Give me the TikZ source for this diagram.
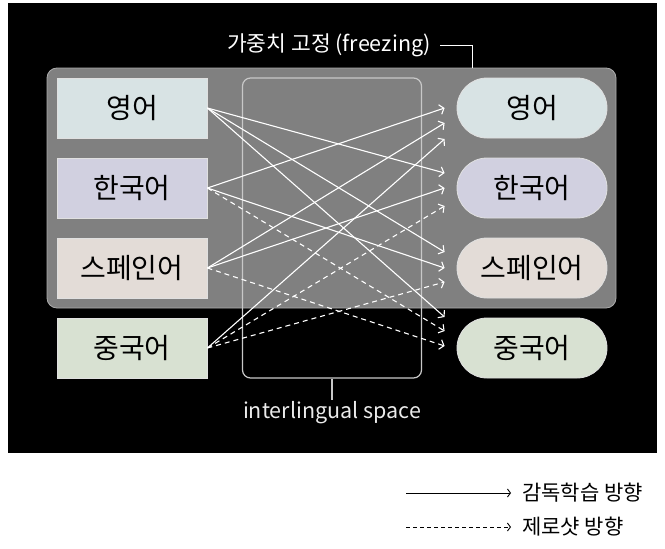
\documentclass[tikz,border=0pt]{standalone}
\usepackage{fontspec}
\setmainfont{Noto Sans CJK KR}
\usetikzlibrary{arrows.meta}

\definecolor{frozengray}{HTML}{808080}
\definecolor{frozenedge}{HTML}{ABABAB}
\definecolor{spaceedge}{HTML}{C8C8C8}
\definecolor{enfill}{HTML}{D8E3E4}
\definecolor{kofill}{HTML}{D1D0E0}
\definecolor{esfill}{HTML}{E3DCD7}
\definecolor{zhfill}{HTML}{D8E1D2}

\tikzset{
  langbox/.style={draw=white!88!black, line width=0.8pt, minimum width=150pt,
    minimum height=60pt, inner sep=0pt, text=black, font=\fontsize{28}{32}\selectfont},
  tgtbox/.style={langbox, rounded corners=30pt},
  sup/.style={draw=white, line width=1.1pt, -{Straight Barb[length=4pt,width=10pt,line width=1.1pt]}},
  zero/.style={sup, dash pattern=on 5pt off 4pt},
  legsup/.style={draw=black, line width=0.9pt, -{Straight Barb[length=3pt,width=8pt,line width=0.9pt]}},
  legzero/.style={legsup, dash pattern=on 4pt off 3pt},
  legtext/.style={anchor=west, inner sep=3pt, font=\fontsize{21}{25}\selectfont}
}

\begin{document}
\begin{tikzpicture}[x=1pt, y=-1pt]
\useasboundingbox (0,0) rectangle (665,549);
\fill[white] (0,0) rectangle (665,549);
% dark panel
\fill[black] (8,3) rectangle (657,453);

% frozen weights and the shared space
\node[draw=frozenedge, fill=frozengray, line width=0.8pt, rounded corners=10pt,
  minimum width=569pt, minimum height=240pt] (frozen) at (331.5,188) {};
\node[draw=spaceedge, line width=1.2pt, rounded corners=8pt,
  minimum width=179pt, minimum height=300pt] (space) at (332,228) {};
\node[text=white, font=\fontsize{21.5}{25}\selectfont] (title) at (329,45) {가중치 고정 (freezing)};
\coordinate (frozenTop) at (472,68);
\draw[white, line width=1pt] ([xshift=6pt]title.east) -| (frozenTop);
\node[anchor=north, inner sep=1pt, text=white!92!black, font=\fontsize{21.5}{25}\selectfont] (spaceLabel) at (332,400) {interlingual space};
\draw[spaceedge, line width=1.2pt] (space.south) -- (spaceLabel.north);

% source languages
\node[langbox, fill=enfill] (srcEn) at (132,108) {영어};
\node[langbox, fill=kofill] (srcKo) at (132,188) {한국어};
\node[langbox, fill=esfill] (srcEs) at (132,268) {스페인어};
\node[langbox, fill=zhfill] (srcZh) at (132,348) {중국어};

% target languages
\node[tgtbox, fill=enfill] (tgtEn) at (532,108) {영어};
\node[tgtbox, fill=kofill] (tgtKo) at (532,188) {한국어};
\node[tgtbox, fill=esfill] (tgtEs) at (532,268) {스페인어};
\node[tgtbox, fill=zhfill] (tgtZh) at (532,348) {중국어};

% translation directions
\draw[sup]  (srcKo.east) -- ([xshift=-12pt, yshift=0pt]tgtEn.west);
\draw[sup]  (srcEs.east) -- ([xshift=-12pt, yshift=-15pt]tgtEn.west);
\draw[sup]  (srcZh.east) -- ([xshift=-12pt, yshift=-31pt]tgtEn.west);
\draw[sup]  (srcEn.east) -- ([xshift=-12pt, yshift=15pt]tgtKo.west);
\draw[sup]  (srcEs.east) -- ([xshift=-12pt, yshift=0pt]tgtKo.west);
\draw[zero] (srcZh.east) -- ([xshift=-12pt, yshift=-18pt]tgtKo.west);
\draw[sup]  (srcEn.east) -- ([xshift=-12pt, yshift=16pt]tgtEs.west);
\draw[sup]  (srcKo.east) -- ([xshift=-12pt, yshift=0pt]tgtEs.west);
\draw[zero] (srcZh.east) -- ([xshift=-12pt, yshift=-14pt]tgtEs.west);
\draw[sup]  (srcEn.east) -- ([xshift=-12pt, yshift=31pt]tgtZh.west);
\draw[zero] (srcKo.east) -- ([xshift=-12pt, yshift=17pt]tgtZh.west);
\draw[zero] (srcEs.east) -- ([xshift=-12pt, yshift=2pt]tgtZh.west);

% legend
\node[legtext] (legSup) at (519,493) {감독학습 방향};
\node[legtext] (legZero) at (519,527) {제로샷 방향};
\coordinate (legSupStart) at (406,493);
\coordinate (legZeroStart) at (406,527);
\draw[legsup]  (legSupStart) -- ([xshift=-8pt]legSup.west);
\draw[legzero] (legZeroStart) -- ([xshift=-8pt]legZero.west);
\end{tikzpicture}
\end{document}
